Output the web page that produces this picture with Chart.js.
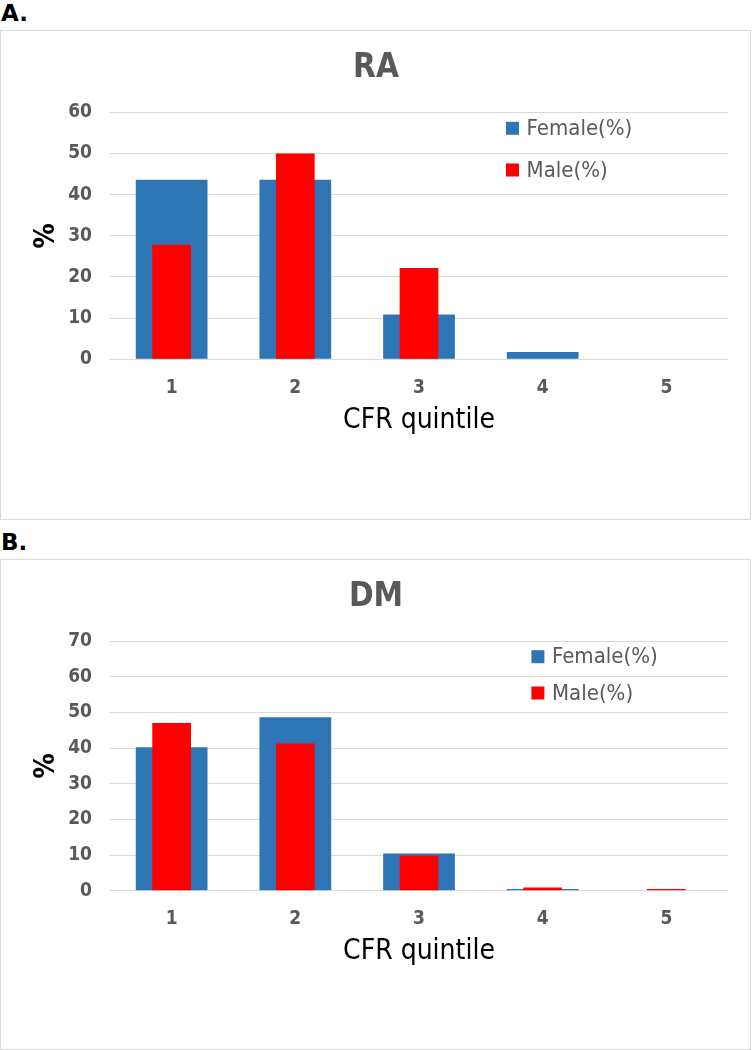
<!DOCTYPE html>
<html><head><meta charset="utf-8">
<script src="https://cdn.jsdelivr.net/npm/chart.js@4"></script>
<style>
html,body{margin:0;padding:0;background:#fff;width:752px;height:1050px;overflow:hidden;position:relative;}
.lab{position:absolute;left:1px;font:bold 23px "DejaVu Sans",sans-serif;line-height:24px;color:#000;}
.box{position:absolute;left:0;width:751px;border:1.5px solid #d9d9d9;box-sizing:border-box;}
canvas{position:absolute;left:0;}
</style></head><body>
<div class="lab" style="top:1px">A.</div>
<div class="box" style="top:30px;height:490px"></div>
<canvas id="cA" width="752" height="490" style="top:30px"></canvas>
<div class="lab" style="top:530px">B.</div>
<div class="box" style="top:559px;height:491px"></div>
<canvas id="cB" width="752" height="490" style="top:559px"></canvas>
<script>
// ---- data ----
const categories = ['1', '2', '3', '4', '5'];
const seriesLabels = ['Female(%)', 'Male(%)'];
const raFemale = [43.6, 43.6, 10.9, 1.8, 0];
const raMale   = [27.8, 50.0, 22.2, 0, 0];
const dmFemale = [40.2, 48.6, 10.4, 0.5, 0];
const dmMale   = [47.0, 41.3, 9.8, 0.9, 0.5];
const raYMax = 60, dmYMax = 70, yStep = 10;
const titles = ['RA', 'DM'];
const xTitle = 'CFR quintile';
const yTitle = '%';

const FAM = '"DejaVu Sans Condensed", "DejaVu Sans", sans-serif';
const GRAY = '#595959';

const innerLegend = {
  id: 'innerLegend',
  afterDraw(chart, args, o) {
    const ctx = chart.ctx;
    ctx.save();
    ctx.font = '22px ' + FAM;
    ctx.textBaseline = 'middle';
    ctx.textAlign = 'left';
    chart.data.datasets.forEach((ds, i) => {
      const y = o.y[i];
      ctx.fillStyle = ds.backgroundColor;
      ctx.fillRect(o.x, y - 6.5, 13, 13);
      ctx.fillStyle = GRAY;
      ctx.fillText(ds.label, o.x + 20.6, y + 1);
    });
    ctx.restore();
  }
};

function makeChart(id, title, female, male, yMax, g) {
  return new Chart(document.getElementById(id), {
    type: 'bar',
    data: {
      labels: categories,
      datasets: [
        { label: seriesLabels[0], data: female, backgroundColor: '#2E75B6',
          barPercentage: 0.58, categoryPercentage: 1, grouped: false, order: 2 },
        { label: seriesLabels[1], data: male, backgroundColor: '#FF0000',
          barPercentage: 0.313, categoryPercentage: 1, grouped: false, order: 1 }
      ]
    },
    options: {
      responsive: false, animation: false, devicePixelRatio: 1,
      layout: { padding: { left: 23.8, right: 23.8, top: 0, bottom: 0 } },
      plugins: {
        legend: { display: false },
        tooltip: { enabled: false },
        title: { display: true, text: title, color: GRAY,
          font: { family: FAM, size: 33, weight: 'bold', lineHeight: 1.2 },
          padding: { top: 18.5, bottom: g.titleBottom } },
        innerLegend: { x: g.legX, y: g.legY }
      },
      scales: {
        x: {
          grid: { display: false }, border: { display: false },
          ticks: { color: GRAY, font: { family: FAM, size: 19, weight: 'bold' }, padding: 9 },
          title: { display: true, text: xTitle, color: '#000',
            font: { family: FAM, size: 28, lineHeight: 1.2 },
            padding: { top: 0, bottom: g.xTitleBottom } },
          afterFit(s) { s.height = g.xHeight; }
        },
        y: {
          min: 0, max: yMax,
          grid: { color: '#d9d9d9', lineWidth: 1, drawTicks: false },
          border: { display: false },
          ticks: { stepSize: yStep, color: GRAY, font: { family: FAM, size: 19, weight: 'bold' }, padding: 17.8 },
          title: { display: true, text: yTitle, color: '#000',
            font: { family: FAM, size: 28, weight: 'bold', lineHeight: 1.2 },
            padding: { top: 6, bottom: 0 } },
          afterFit(s) { s.width = 86; }
        }
      }
    },
    plugins: [innerLegend]
  });
}

makeChart('cA', titles[0], raFemale, raMale, raYMax,
  { titleBottom: 24.2, xHeight: 160.7, xTitleBottom: 82.6, legX: 506, legY: [98.3, 140] });
makeChart('cB', titles[1], dmFemale, dmMale, dmYMax,
  { titleBottom: 23.9, xHeight: 158.3, xTitleBottom: 80.2, legX: 531.4, legY: [97.7, 134] });
</script>
</body></html>
